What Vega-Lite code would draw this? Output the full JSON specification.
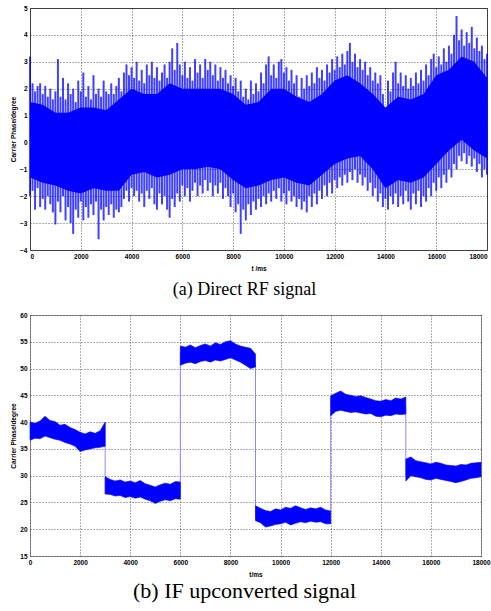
{
  "$schema": "https://vega.github.io/schema/vega-lite/v6.json",
  "background": "white",
  "padding": {"left": 10, "top": 4, "right": 0, "bottom": 5},
  "spacing": 11,
  "config": {
    "view": {"stroke": "#444", "strokeWidth": 1},
    "axis": {
      "labelFont": "Liberation Sans", "labelFontSize": 6.5, "labelFontWeight": "bold", "labelColor": "#000",
      "titleFont": "Liberation Sans", "titleFontSize": 6.5, "titleFontWeight": "bold", "titleColor": "#000",
      "gridColor": "#333", "gridDash": [1, 2], "gridOpacity": 1, "gridWidth": 0.8,
      "domain": false, "ticks": false, "labelPadding": 3, "titlePadding": 3
    },
    "title": {"font": "Liberation Serif", "fontWeight": "normal", "color": "#000", "orient": "bottom", "anchor": "middle"}
  },
  "datasets": {
    "core": [
      {"t":0,"chi":1.5,"clo":-1.3},{"t":500,"chi":1.4,"clo":-1.5},{"t":1000,"chi":1.1,"clo":-1.6},{"t":1500,"chi":1.1,"clo":-1.8},
      {"t":2000,"chi":1.3,"clo":-1.9},{"t":2500,"chi":1.3,"clo":-1.7},{"t":3000,"chi":1.2,"clo":-1.8},{"t":3500,"chi":1.6,"clo":-1.8},
      {"t":4000,"chi":2.0,"clo":-1.2},{"t":4500,"chi":1.8,"clo":-1.1},{"t":5000,"chi":1.8,"clo":-1.3},{"t":5500,"chi":2.2,"clo":-1.2},
      {"t":6000,"chi":2.0,"clo":-1.0},{"t":6500,"chi":2.0,"clo":-1.0},{"t":7000,"chi":2.0,"clo":-0.9},{"t":7500,"chi":2.0,"clo":-1.0},
      {"t":8000,"chi":1.8,"clo":-1.4},{"t":8500,"chi":1.4,"clo":-1.7},{"t":9000,"chi":1.5,"clo":-1.6},{"t":9500,"chi":2.0,"clo":-1.4},
      {"t":10000,"chi":2.0,"clo":-1.3},{"t":10500,"chi":1.7,"clo":-1.5},{"t":11000,"chi":1.5,"clo":-1.6},{"t":11500,"chi":1.8,"clo":-1.2},
      {"t":12000,"chi":2.3,"clo":-0.8},{"t":12500,"chi":2.5,"clo":-0.6},{"t":13000,"chi":2.2,"clo":-0.5},{"t":13500,"chi":1.8,"clo":-1.0},
      {"t":14000,"chi":1.3,"clo":-1.7},{"t":14500,"chi":1.7,"clo":-1.4},{"t":15000,"chi":1.6,"clo":-1.5},{"t":15500,"chi":1.8,"clo":-1.3},
      {"t":16000,"chi":2.5,"clo":-0.8},{"t":16500,"chi":2.7,"clo":-0.3},{"t":17000,"chi":3.2,"clo":0.1},{"t":17500,"chi":3.0,"clo":-0.3},
      {"t":18000,"chi":2.4,"clo":-0.6}
    ],
    "spikes": [
      {"t":0,"hi":3.2,"lo":-2.0},{"t":100,"hi":2.2,"lo":-1.8},{"t":200,"hi":1.9,"lo":-2.5},{"t":300,"hi":2.1,"lo":-1.7},{"t":400,"hi":2.2,"lo":-2.4},
      {"t":500,"hi":1.8,"lo":-2.1},{"t":600,"hi":2.1,"lo":-2.5},{"t":700,"hi":1.7,"lo":-2.0},{"t":800,"hi":2.0,"lo":-2.3},{"t":900,"hi":1.6,"lo":-2.6},
      {"t":1000,"hi":1.9,"lo":-3.05},{"t":1100,"hi":3.1,"lo":-2.2},{"t":1200,"hi":1.7,"lo":-2.6},{"t":1300,"hi":2.4,"lo":-2.0},{"t":1400,"hi":1.6,"lo":-2.9},
      {"t":1500,"hi":2.2,"lo":-2.4},{"t":1600,"hi":1.8,"lo":-3.0},{"t":1700,"hi":2.0,"lo":-3.4},{"t":1800,"hi":1.5,"lo":-2.5},{"t":1900,"hi":2.3,"lo":-2.8},
      {"t":2000,"hi":1.9,"lo":-2.2},{"t":2100,"hi":2.6,"lo":-2.9},{"t":2200,"hi":1.7,"lo":-2.4},{"t":2300,"hi":2.1,"lo":-2.8},{"t":2400,"hi":1.6,"lo":-2.3},
      {"t":2500,"hi":2.5,"lo":-2.7},{"t":2600,"hi":1.8,"lo":-2.2},{"t":2700,"hi":2.0,"lo":-3.6},{"t":2800,"hi":1.7,"lo":-2.5},{"t":2900,"hi":2.3,"lo":-2.9},
      {"t":3000,"hi":1.9,"lo":-2.4},{"t":3100,"hi":1.8,"lo":-2.7},{"t":3200,"hi":2.2,"lo":-2.3},{"t":3300,"hi":1.8,"lo":-2.8},{"t":3400,"hi":2.1,"lo":-2.5},
      {"t":3500,"hi":2.4,"lo":-2.6},{"t":3600,"hi":1.9,"lo":-2.4},{"t":3700,"hi":2.6,"lo":-2.1},{"t":3800,"hi":2.9,"lo":-1.8},{"t":3900,"hi":2.5,"lo":-2.2},
      {"t":4000,"hi":2.8,"lo":-1.7},{"t":4100,"hi":2.4,"lo":-2.0},{"t":4200,"hi":3.0,"lo":-1.8},{"t":4300,"hi":2.3,"lo":-2.2},{"t":4400,"hi":2.7,"lo":-1.9},
      {"t":4500,"hi":2.2,"lo":-2.4},{"t":4600,"hi":2.9,"lo":-1.8},{"t":4700,"hi":2.5,"lo":-2.1},{"t":4800,"hi":3.0,"lo":-1.7},{"t":4900,"hi":2.4,"lo":-2.3},
      {"t":5000,"hi":2.8,"lo":-2.5},{"t":5100,"hi":2.3,"lo":-1.9},{"t":5200,"hi":2.6,"lo":-2.3},{"t":5300,"hi":2.9,"lo":-2.0},{"t":5400,"hi":2.4,"lo":-2.5},
      {"t":5500,"hi":3.0,"lo":-2.8},{"t":5600,"hi":3.5,"lo":-2.1},{"t":5700,"hi":2.7,"lo":-2.4},{"t":5800,"hi":3.7,"lo":-1.9},{"t":5900,"hi":2.9,"lo":-2.2},
      {"t":6000,"hi":2.5,"lo":-1.6},{"t":6100,"hi":3.0,"lo":-2.0},{"t":6200,"hi":2.4,"lo":-1.7},{"t":6300,"hi":2.8,"lo":-2.2},{"t":6400,"hi":2.3,"lo":-1.8},
      {"t":6500,"hi":3.1,"lo":-1.5},{"t":6600,"hi":2.6,"lo":-2.0},{"t":6700,"hi":2.9,"lo":-1.6},{"t":6800,"hi":2.4,"lo":-1.9},{"t":6900,"hi":3.1,"lo":-1.4},
      {"t":7000,"hi":2.7,"lo":-1.8},{"t":7100,"hi":3.0,"lo":-1.5},{"t":7200,"hi":2.5,"lo":-2.0},{"t":7300,"hi":2.9,"lo":-1.6},{"t":7400,"hi":2.3,"lo":-1.9},
      {"t":7500,"hi":2.8,"lo":-1.5},{"t":7600,"hi":2.4,"lo":-2.1},{"t":7700,"hi":2.7,"lo":-1.7},{"t":7800,"hi":2.2,"lo":-2.0},{"t":7900,"hi":2.5,"lo":-2.4},
      {"t":8000,"hi":2.1,"lo":-1.9},{"t":8100,"hi":2.4,"lo":-2.6},{"t":8200,"hi":1.9,"lo":-2.3},{"t":8300,"hi":2.3,"lo":-3.4},{"t":8400,"hi":1.7,"lo":-2.5},
      {"t":8500,"hi":2.0,"lo":-2.9},{"t":8600,"hi":1.6,"lo":-2.3},{"t":8700,"hi":2.3,"lo":-2.7},{"t":8800,"hi":1.8,"lo":-2.2},{"t":8900,"hi":2.2,"lo":-2.5},
      {"t":9000,"hi":1.9,"lo":-2.1},{"t":9100,"hi":2.6,"lo":-2.4},{"t":9200,"hi":2.2,"lo":-2.0},{"t":9300,"hi":2.9,"lo":-2.3},{"t":9400,"hi":3.2,"lo":-1.9},
      {"t":9500,"hi":2.5,"lo":-2.2},{"t":9600,"hi":2.9,"lo":-1.8},{"t":9700,"hi":2.4,"lo":-2.1},{"t":9800,"hi":3.0,"lo":-1.7},{"t":9900,"hi":3.1,"lo":-2.2},
      {"t":10000,"hi":2.6,"lo":-1.9},{"t":10100,"hi":2.8,"lo":-2.3},{"t":10200,"hi":2.3,"lo":-1.8},{"t":10300,"hi":2.7,"lo":-2.2},{"t":10400,"hi":2.2,"lo":-2.0},
      {"t":10500,"hi":2.5,"lo":-2.4},{"t":10600,"hi":1.7,"lo":-2.1},{"t":10700,"hi":2.4,"lo":-2.5},{"t":10800,"hi":2.0,"lo":-2.2},{"t":10900,"hi":2.5,"lo":-2.6},
      {"t":11000,"hi":2.1,"lo":-2.0},{"t":11100,"hi":2.6,"lo":-2.4},{"t":11200,"hi":2.2,"lo":-1.9},{"t":11300,"hi":2.8,"lo":-2.3},{"t":11400,"hi":2.4,"lo":-1.8},
      {"t":11500,"hi":2.7,"lo":-2.1},{"t":11600,"hi":2.3,"lo":-1.6},{"t":11700,"hi":2.9,"lo":-2.0},{"t":11800,"hi":2.6,"lo":-1.5},{"t":11900,"hi":3.1,"lo":-1.9},
      {"t":12000,"hi":2.7,"lo":-1.4},{"t":12100,"hi":3.2,"lo":-1.7},{"t":12200,"hi":2.8,"lo":-1.3},{"t":12300,"hi":3.3,"lo":-1.6},{"t":12400,"hi":2.9,"lo":-1.2},
      {"t":12500,"hi":3.4,"lo":-1.5},{"t":12600,"hi":3.7,"lo":-1.1},{"t":12700,"hi":3.0,"lo":-1.4},{"t":12800,"hi":3.3,"lo":-1.0},{"t":12900,"hi":2.8,"lo":-1.5},
      {"t":13000,"hi":3.1,"lo":-1.2},{"t":13100,"hi":2.7,"lo":-1.6},{"t":13200,"hi":3.0,"lo":-1.3},{"t":13300,"hi":2.5,"lo":-1.8},{"t":13400,"hi":2.8,"lo":-1.5},
      {"t":13500,"hi":2.3,"lo":-2.0},{"t":13600,"hi":2.6,"lo":-1.7},{"t":13700,"hi":2.2,"lo":-2.2},{"t":13800,"hi":2.5,"lo":-1.9},{"t":13900,"hi":1.8,"lo":-2.4},
      {"t":14000,"hi":1.2,"lo":-2.1},{"t":14100,"hi":2.3,"lo":-2.5},{"t":14200,"hi":1.9,"lo":-2.0},{"t":14300,"hi":2.6,"lo":-2.3},{"t":14400,"hi":3.0,"lo":-1.9},
      {"t":14500,"hi":2.2,"lo":-2.4},{"t":14600,"hi":2.6,"lo":-2.0},{"t":14700,"hi":2.1,"lo":-2.3},{"t":14800,"hi":2.5,"lo":-1.8},{"t":14900,"hi":2.0,"lo":-2.2},
      {"t":15000,"hi":2.4,"lo":-2.5},{"t":15100,"hi":2.1,"lo":-1.9},{"t":15200,"hi":2.6,"lo":-2.3},{"t":15300,"hi":2.2,"lo":-1.8},{"t":15400,"hi":2.7,"lo":-2.4},
      {"t":15500,"hi":2.3,"lo":-2.0},{"t":15600,"hi":2.9,"lo":-2.2},{"t":15700,"hi":2.5,"lo":-1.7},{"t":15800,"hi":3.1,"lo":-2.0},{"t":15900,"hi":3.3,"lo":-1.5},
      {"t":16000,"hi":2.8,"lo":-1.8},{"t":16100,"hi":3.2,"lo":-1.3},{"t":16200,"hi":2.9,"lo":-1.7},{"t":16300,"hi":3.5,"lo":-1.2},{"t":16400,"hi":3.0,"lo":-1.5},
      {"t":16500,"hi":3.6,"lo":-1.0},{"t":16600,"hi":3.3,"lo":-1.3},{"t":16700,"hi":4.0,"lo":-0.8},{"t":16800,"hi":4.7,"lo":-1.0},{"t":16900,"hi":3.8,"lo":-0.5},
      {"t":17000,"hi":4.2,"lo":-0.7},{"t":17100,"hi":3.6,"lo":-0.4},{"t":17200,"hi":4.1,"lo":-0.8},{"t":17300,"hi":3.7,"lo":-0.5},{"t":17400,"hi":4.3,"lo":-0.9},
      {"t":17500,"hi":3.5,"lo":-0.6},{"t":17600,"hi":3.9,"lo":-1.1},{"t":17700,"hi":3.4,"lo":-0.8},{"t":17800,"hi":3.6,"lo":-1.3},{"t":17900,"hi":3.1,"lo":-1.0},
      {"t":18000,"hi":3.3,"lo":-1.2}
    ],
    "band": [
      {"seg":1,"t":0,"lo":36.6,"hi":40.0},{"seg":1,"t":200,"lo":37.0,"hi":39.8},{"seg":1,"t":400,"lo":36.9,"hi":40.2},{"seg":1,"t":600,"lo":37.4,"hi":41.1},
      {"seg":1,"t":800,"lo":37.1,"hi":40.3},{"seg":1,"t":1000,"lo":36.8,"hi":40.1},{"seg":1,"t":1200,"lo":36.6,"hi":39.4},{"seg":1,"t":1400,"lo":36.2,"hi":39.6},
      {"seg":1,"t":1600,"lo":35.9,"hi":39.0},{"seg":1,"t":1800,"lo":35.5,"hi":38.6},{"seg":1,"t":2000,"lo":34.5,"hi":38.1},{"seg":1,"t":2200,"lo":34.8,"hi":37.8},
      {"seg":1,"t":2400,"lo":35.0,"hi":38.2},{"seg":1,"t":2600,"lo":35.2,"hi":37.9},{"seg":1,"t":2800,"lo":35.3,"hi":38.4},{"seg":1,"t":3000,"lo":35.5,"hi":40.0},
      {"seg":2,"t":3000,"lo":26.6,"hi":29.8},{"seg":2,"t":3200,"lo":26.5,"hi":29.3},{"seg":2,"t":3400,"lo":26.2,"hi":29.0},{"seg":2,"t":3600,"lo":26.3,"hi":29.2},
      {"seg":2,"t":3800,"lo":25.9,"hi":28.8},{"seg":2,"t":4000,"lo":26.1,"hi":29.0},{"seg":2,"t":4200,"lo":25.8,"hi":28.7},{"seg":2,"t":4400,"lo":26.0,"hi":29.1},
      {"seg":2,"t":4600,"lo":25.6,"hi":28.5},{"seg":2,"t":4800,"lo":25.3,"hi":28.2},{"seg":2,"t":5000,"lo":24.8,"hi":27.9},{"seg":2,"t":5200,"lo":25.2,"hi":28.3},
      {"seg":2,"t":5400,"lo":25.5,"hi":28.6},{"seg":2,"t":5600,"lo":25.3,"hi":28.4},{"seg":2,"t":5800,"lo":25.7,"hi":28.9},{"seg":2,"t":6000,"lo":25.6,"hi":28.8},
      {"seg":3,"t":6000,"lo":50.6,"hi":54.2},{"seg":3,"t":6200,"lo":51.0,"hi":54.0},{"seg":3,"t":6400,"lo":51.2,"hi":54.4},{"seg":3,"t":6600,"lo":50.9,"hi":53.9},
      {"seg":3,"t":6800,"lo":51.3,"hi":54.3},{"seg":3,"t":7000,"lo":51.5,"hi":54.6},{"seg":3,"t":7200,"lo":51.2,"hi":54.2},{"seg":3,"t":7400,"lo":51.6,"hi":54.8},
      {"seg":3,"t":7600,"lo":51.4,"hi":54.5},{"seg":3,"t":7800,"lo":51.7,"hi":55.0},{"seg":3,"t":8000,"lo":52.0,"hi":55.2},{"seg":3,"t":8200,"lo":51.6,"hi":54.6},
      {"seg":3,"t":8400,"lo":51.2,"hi":54.2},{"seg":3,"t":8600,"lo":50.6,"hi":54.0},{"seg":3,"t":8800,"lo":50.0,"hi":53.8},{"seg":3,"t":9000,"lo":50.3,"hi":52.7},
      {"seg":4,"t":9000,"lo":21.6,"hi":24.4},{"seg":4,"t":9200,"lo":21.2,"hi":23.9},{"seg":4,"t":9400,"lo":20.4,"hi":23.5},{"seg":4,"t":9600,"lo":20.6,"hi":23.3},
      {"seg":4,"t":9800,"lo":20.9,"hi":23.8},{"seg":4,"t":10000,"lo":21.0,"hi":23.6},{"seg":4,"t":10200,"lo":21.3,"hi":24.1},{"seg":4,"t":10400,"lo":20.8,"hi":23.9},
      {"seg":4,"t":10600,"lo":21.1,"hi":24.4},{"seg":4,"t":10800,"lo":21.4,"hi":24.0},{"seg":4,"t":11000,"lo":21.2,"hi":23.7},{"seg":4,"t":11200,"lo":21.5,"hi":24.0},
      {"seg":4,"t":11400,"lo":21.3,"hi":23.8},{"seg":4,"t":11600,"lo":21.4,"hi":24.1},{"seg":4,"t":11800,"lo":21.0,"hi":23.6},{"seg":4,"t":12000,"lo":21.0,"hi":23.4},
      {"seg":5,"t":12000,"lo":41.2,"hi":44.9},{"seg":5,"t":12200,"lo":42.0,"hi":45.4},{"seg":5,"t":12400,"lo":42.2,"hi":45.8},{"seg":5,"t":12600,"lo":42.0,"hi":45.2},
      {"seg":5,"t":12800,"lo":41.8,"hi":45.0},{"seg":5,"t":13000,"lo":41.9,"hi":44.8},{"seg":5,"t":13200,"lo":41.7,"hi":44.9},{"seg":5,"t":13400,"lo":41.5,"hi":44.6},
      {"seg":5,"t":13600,"lo":41.6,"hi":44.3},{"seg":5,"t":13800,"lo":41.1,"hi":44.0},{"seg":5,"t":14000,"lo":41.0,"hi":43.9},{"seg":5,"t":14200,"lo":41.3,"hi":44.2},
      {"seg":5,"t":14400,"lo":41.2,"hi":44.0},{"seg":5,"t":14600,"lo":41.5,"hi":44.5},{"seg":5,"t":14800,"lo":41.4,"hi":44.3},{"seg":5,"t":15000,"lo":41.5,"hi":44.7},
      {"seg":6,"t":15000,"lo":29.0,"hi":33.1},{"seg":6,"t":15200,"lo":30.0,"hi":33.5},{"seg":6,"t":15400,"lo":29.8,"hi":32.8},{"seg":6,"t":15600,"lo":29.6,"hi":32.6},
      {"seg":6,"t":15800,"lo":29.3,"hi":32.4},{"seg":6,"t":16000,"lo":29.2,"hi":32.2},{"seg":6,"t":16200,"lo":29.5,"hi":32.5},{"seg":6,"t":16400,"lo":29.3,"hi":32.3},
      {"seg":6,"t":16600,"lo":29.1,"hi":32.0},{"seg":6,"t":16800,"lo":28.9,"hi":31.9},{"seg":6,"t":17000,"lo":28.7,"hi":31.8},{"seg":6,"t":17200,"lo":28.9,"hi":32.1},
      {"seg":6,"t":17400,"lo":29.2,"hi":32.0},{"seg":6,"t":17600,"lo":29.5,"hi":32.3},{"seg":6,"t":17800,"lo":29.6,"hi":32.4},{"seg":6,"t":18000,"lo":29.8,"hi":32.5}
    ],
    "trans": [
      {"t":3000,"a":26.5,"b":40.0},{"t":6000,"a":26.0,"b":53.0},{"t":9000,"a":22.0,"b":51.0},{"t":12000,"a":21.0,"b":44.5},{"t":15000,"a":30.0,"b":43.0}
    ]
  },
  "vconcat": [
    {
      "width": 457,
      "height": 242,
      "title": {"text": "(a) Direct RF signal", "dx": -14, "fontSize": 18, "offset": 9},
      "view": {"stroke": "#444"},
      "layer": [
        {
          "data": {"name": "core"},
          "mark": {"type": "area", "color": "#0000ff", "opacity": 1},
          "encoding": {
            "x": {"field": "t", "type": "quantitative", "scale": {"domain": [0, 18000], "nice": false},
                  "axis": {"values": [0,2000,4000,6000,8000,10000,12000,14000,16000,18000], "format": "d", "title": "t /ms", "grid": true, "labelOverlap": false, "labelFlush": true, "titlePadding": 6}},
            "y": {"field": "chi", "type": "quantitative", "scale": {"domain": [-4, 5], "nice": false},
                  "axis": {"values": [-4,-3,-2,-1,0,1,2,3,4,5], "format": "d", "title": "Carrier Phase/degree", "grid": true, "labelOverlap": false, "labelFlush": false}},
            "y2": {"field": "clo"}
          }
        },
        {
          "data": {"name": "spikes"},
          "mark": {"type": "rule", "color": "#0000ff", "strokeWidth": 2.0, "opacity": 0.75},
          "encoding": {
            "x": {"field": "t", "type": "quantitative", "scale": {"domain": [0, 18000], "nice": false},
                  "axis": {"values": [0,2000,4000,6000,8000,10000,12000,14000,16000,18000], "format": "d", "title": "t /ms", "grid": true, "labelOverlap": false, "labelFlush": true, "titlePadding": 6}},
            "y": {"field": "hi", "type": "quantitative", "scale": {"domain": [-4, 5], "nice": false},
                  "axis": {"values": [-4,-3,-2,-1,0,1,2,3,4,5], "format": "d", "title": "Carrier Phase/degree", "grid": true, "labelOverlap": false, "labelFlush": false}},
            "y2": {"field": "lo"}
          }
        }
      ]
    },
    {
      "width": 451,
      "height": 241,
      "title": {"text": "(b) IF upconverted signal", "dx": -11, "fontSize": 22, "offset": 3},
      "view": {"stroke": "#999"},
      "layer": [
        {
          "data": {"name": "trans"},
          "mark": {"type": "rule", "color": "#8a8aff", "strokeWidth": 1},
          "encoding": {
            "x": {"field": "t", "type": "quantitative", "scale": {"domain": [0, 18000], "nice": false},
                  "axis": {"values": [0,2000,4000,6000,8000,10000,12000,14000,16000,18000], "format": "d", "title": "t/ms", "grid": true, "labelOverlap": false, "labelFlush": false, "titlePadding": 6}},
            "y": {"field": "a", "type": "quantitative", "scale": {"domain": [15, 60], "nice": false},
                  "axis": {"values": [15,20,25,30,35,40,45,50,55,60], "format": "d", "title": "Carrier Phase/degree", "grid": true, "labelOverlap": false, "labelFlush": false}},
            "y2": {"field": "b"}
          }
        },
        {
          "data": {"name": "band"},
          "mark": {"type": "area", "color": "#0000ff", "stroke": "#0000ff", "strokeWidth": 0.6, "opacity": 1},
          "encoding": {
            "x": {"field": "t", "type": "quantitative", "scale": {"domain": [0, 18000], "nice": false},
                  "axis": {"values": [0,2000,4000,6000,8000,10000,12000,14000,16000,18000], "format": "d", "title": "t/ms", "grid": true, "labelOverlap": false, "labelFlush": false, "titlePadding": 6}},
            "y": {"field": "hi", "type": "quantitative", "scale": {"domain": [15, 60], "nice": false},
                  "axis": {"values": [15,20,25,30,35,40,45,50,55,60], "format": "d", "title": "Carrier Phase/degree", "grid": true, "labelOverlap": false, "labelFlush": false}},
            "y2": {"field": "lo"},
            "detail": {"field": "seg", "type": "nominal"}
          }
        }
      ]
    }
  ]
}
